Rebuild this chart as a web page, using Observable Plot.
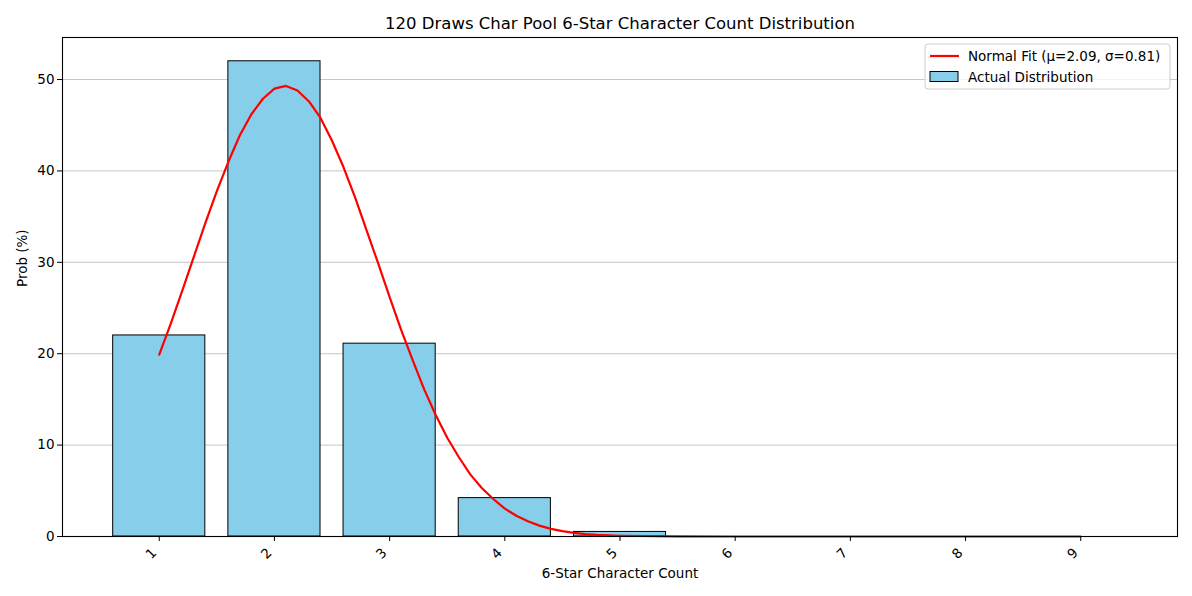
<!DOCTYPE html>
<html>
<head>
<meta charset="utf-8">
<script src="https://cdn.jsdelivr.net/npm/d3@7"></script>
<script src="https://cdn.jsdelivr.net/npm/@observablehq/plot@0.6"></script>
<style>
  html, body { margin: 0; padding: 0; background: #fff; }
  #chart { width: 1192px; height: 596px; }
  svg { font-family: "DejaVu Sans", sans-serif; }
</style>
</head>
<body>
<div id="chart"></div>
<script>
// ---- data ----
const counts = [1, 2, 3, 4, 5, 6, 7, 8, 9];
const probs = [22.0, 52.0, 21.1, 4.2, 0.5, 0.0, 0.0, 0.0, 0.0];

const fitMu = 2.09;
const fitSigma = 0.81;
const fitX = [1.0, 1.1, 1.2, 1.3, 1.4, 1.5, 1.6, 1.7, 1.8, 1.9,
              2.0, 2.1, 2.2, 2.3, 2.4, 2.5, 2.6, 2.7, 2.8, 2.9,
              3.0, 3.1, 3.2, 3.3, 3.4, 3.5, 3.6, 3.7, 3.8, 3.9,
              4.0, 4.1, 4.2, 4.3, 4.4, 4.5, 4.6, 4.7, 4.8, 4.9,
              5.0, 5.5, 6.0, 7.0, 8.0, 9.0];
const fitY = [19.9, 23.3, 26.9, 30.6, 34.3, 37.8, 41.0, 43.9, 46.2, 47.9,
              49.0, 49.3, 48.8, 47.6, 45.8, 43.3, 40.4, 37.1, 33.5, 29.9,
              26.2, 22.6, 19.3, 16.1, 13.3, 10.8, 8.7, 6.8, 5.3, 4.1,
              3.05, 2.27, 1.66, 1.19, 0.84, 0.59, 0.40, 0.27, 0.18, 0.12,
              0.08, 0.01, 0.0, 0.0, 0.0, 0.0];

const yTicks = [0, 10, 20, 30, 40, 50];
const xTicks = counts;

const titleText = "120 Draws Char Pool 6-Star Character Count Distribution";
const xLabel = "6-Star Character Count";
const yLabel = "Prob (%)";
const fitLabel = `Normal Fit (μ=${fitMu.toFixed(2)}, σ=${fitSigma.toFixed(2)})`;
const barLabel = "Actual Distribution";

// ---- build tables ----
const bars = counts.map((c, i) => ({c, p: probs[i]}));
const fit = fitX.map((x, i) => ({x, y: fitY[i]}));

const W = 1192, H = 596;
const mL = 62, mR = 15, mT = 37, mB = 60;

const plot = Plot.plot({
  width: W,
  height: H,
  marginLeft: mL,
  marginRight: mR,
  marginTop: mT,
  marginBottom: mB,
  style: {fontFamily: "DejaVu Sans, sans-serif", fontSize: "13.5px", color: "#000", background: "#fff"},
  x: {type: "linear", domain: [0.16, 9.84]},
  y: {domain: [0, 54.6]},
  marks: [
    Plot.gridY(yTicks, {stroke: "#b0b0b0", strokeOpacity: 0.8, strokeWidth: 0.9}),
    Plot.rectY(bars, {x1: d => d.c - 0.4, x2: d => d.c + 0.4, y1: 0, y2: "p", fill: "#87CEEB", stroke: "#000", strokeWidth: 1}),
    Plot.line(fit, {x: "x", y: "y", stroke: "#ff0000", strokeWidth: 2.2}),
    Plot.frame({stroke: "#000", strokeWidth: 1.1}),
    Plot.axisY(yTicks, {tickSize: 5, tickPadding: 3, label: null, fontSize: 13.5}),
    Plot.axisX(xTicks, {tickSize: 5, label: null, tickFormat: () => ""}),
    Plot.axisX(xTicks, {tickSize: 0, tickPadding: 8, dx: -5, dy: 6, tickRotate: -45, label: null, fontSize: 13.5, tickFormat: d => String(d)}),
    Plot.text([titleText], {frameAnchor: "top", lineAnchor: "middle", dy: -14, fontSize: 16.5, fill: "#000"}),
    Plot.text([xLabel], {frameAnchor: "bottom", lineAnchor: "middle", dy: 37, fontSize: 13.5, fill: "#000"}),
    Plot.text([yLabel], {frameAnchor: "left", dx: -40, rotate: -90, fontSize: 13.5, fill: "#000"})
  ]
});

document.getElementById("chart").appendChild(plot);

// ---- legend ----
const svg = d3.select(plot);
const lg = svg.append("g").attr("transform", "translate(925,44)")
  .attr("text-anchor", "start")
  .style("font-family", "DejaVu Sans, sans-serif").style("font-size", "13.5px");
lg.append("rect").attr("x", 0).attr("y", 0).attr("width", 245).attr("height", 45)
  .attr("rx", 3).attr("fill", "#fff").attr("fill-opacity", 0.8).attr("stroke", "#cccccc");
lg.append("line").attr("x1", 5).attr("x2", 34).attr("y1", 12).attr("y2", 12)
  .attr("stroke", "#ff0000").attr("stroke-width", 2.2);
lg.append("text").attr("x", 43).attr("y", 12).attr("dy", "0.35em").attr("text-anchor", "start").attr("fill", "#000").text(fitLabel);
lg.append("rect").attr("x", 5).attr("y", 27.5).attr("width", 28).attr("height", 10)
  .attr("fill", "#87CEEB").attr("stroke", "#000").attr("stroke-width", 1);
lg.append("text").attr("x", 43).attr("y", 33).attr("dy", "0.35em").attr("text-anchor", "start").attr("fill", "#000").text(barLabel);
</script>
</body>
</html>
